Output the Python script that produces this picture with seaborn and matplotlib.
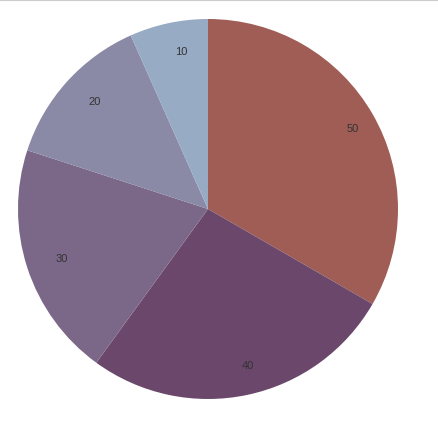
import matplotlib
matplotlib.use("Agg")
import matplotlib.pyplot as plt
import seaborn as sns

values = [50, 40, 30, 20, 10]
labels = ["50", "40", "30", "20", "10"]
colors = ["#a05d56", "#6b486b", "#7b6888", "#8a89a6", "#98abc5"]

sns.set_theme(style="white")
plt.rcParams["font.family"] = ["Liberation Sans", "DejaVu Sans"]

fig = plt.figure(figsize=(4.39, 4.24), dpi=100)
ax = fig.add_axes([18 / 439, 25 / 424, 380 / 439, 380 / 424])
wedges, texts = ax.pie(
    values,
    labels=labels,
    colors=sns.color_palette(colors),
    startangle=90,
    counterclock=False,
    labeldistance=0.845,
    wedgeprops=dict(linewidth=0),
    textprops=dict(fontsize=8, color="#333333"),
)
# labels start at the arc centroid (text-anchor start)
for t in texts:
    t.set_ha("left")
    t.set_va("center")
ax.set_xlim(-1, 1)
ax.set_ylim(-1, 1)
ax.set_aspect("equal")
ax.axis("off")

# thin grey rule at the very top
fig.add_artist(plt.Line2D([0, 1], [0.999, 0.999], color="#cccccc", linewidth=1.5, transform=fig.transFigure))

fig.savefig("out.png", dpi=100)
